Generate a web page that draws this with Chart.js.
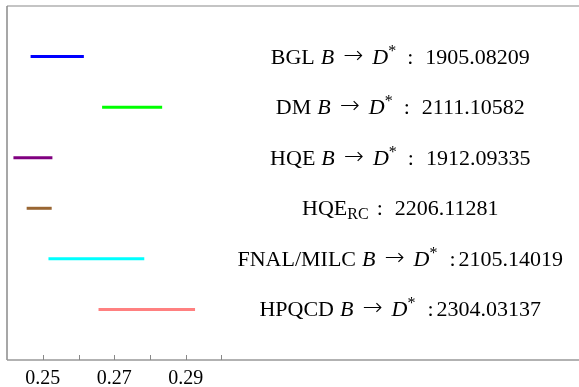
<!DOCTYPE html>
<html>
<head>
<meta charset="utf-8">
<script src="https://cdn.jsdelivr.net/npm/chart.js@4.4.1/dist/chart.umd.min.js"></script>
<style>
  html, body { margin: 0; padding: 0; background: #fff; }
  #wrap { width: 579px; height: 387px; }
</style>
</head>
<body>
<div id="wrap"><canvas id="chart"></canvas></div>
<script>
// Data
const groups = ["BGL", "DM", "HQE", "HQE_RC", "FNAL/MILC", "HPQCD"];
const refs = ["1905.08209", "2111.10582", "1912.09335", "2206.11281", "2105.14019", "2304.03137"];
const lowValues = [0.2466, 0.2666, 0.2418, 0.2455, 0.2516, 0.2656];
const highValues = [0.2615, 0.2834, 0.2527, 0.2525, 0.2784, 0.2926];
const rows = [6, 5, 4, 3, 2, 1];
const colors = ["#0000ff", "#00ff00", "#800080", "#996633", "#00ffff", "#ff8080"];
const tickValues = [0.25, 0.26, 0.27, 0.28, 0.29, 0.30];
const labelledTicks = [0.25, 0.27, 0.29];
const labelX = 0.35;

const SERIF = "'Liberation Serif', 'Times New Roman', serif";

// pieces of each label: r = roman, i = italic, a = arrow, sup / sub, g = gap in px
function labelParts(i) {
  const g = groups[i];
  if (g === "HQE_RC") {
    return [
      { t: "HQE", s: "r" }, { t: "RC", s: "sub" }, { g: 8 },
      { t: ":", s: "r" }, { g: 12 }, { t: refs[i], s: "r" }
    ];
  }
  const wide = (g === "FNAL/MILC" || g === "HPQCD");
  return [
    { t: g, s: "r" }, { g: 6 }, { t: "B", s: "i" }, { g: 9 }, { t: "\u2192", s: "a" }, { g: 9 },
    { t: "D", s: "i" }, { t: "*", s: "sup" },
    { g: wide ? 12 : 11 }, { t: ":", s: "r" }, { g: wide ? 3 : 12 }, { t: refs[i], s: "r" }
  ];
}

function fontFor(s) {
  if (s === "i") return "italic 22px " + SERIF;
  if (s === "a") return "200 24px 'DejaVu Sans'";
  if (s === "sup" || s === "sub") return "16px " + SERIF;
  return "22px " + SERIF;
}

const frameAndLabels = {
  id: "frameAndLabels",
  afterDraw(chart) {
    const { ctx, chartArea: a, scales } = chart;
    ctx.save();
    // frame
    ctx.lineWidth = 1.5;
    ctx.strokeStyle = "#b0b0b0";
    ctx.beginPath(); ctx.moveTo(a.left, a.top); ctx.lineTo(a.right, a.top); ctx.stroke();
    ctx.strokeStyle = "#8a8a8a";
    ctx.beginPath(); ctx.moveTo(a.left, a.top); ctx.lineTo(a.left, a.bottom); ctx.stroke();
    ctx.strokeStyle = "#999999";
    ctx.beginPath(); ctx.moveTo(a.left, a.bottom); ctx.lineTo(a.right, a.bottom); ctx.stroke();
    // inward tick marks
    ctx.lineWidth = 1;
    ctx.strokeStyle = "#888888";
    tickValues.forEach(v => {
      const x = Math.round(scales.x.getPixelForValue(v)) + 0.5;
      ctx.beginPath(); ctx.moveTo(x, a.bottom); ctx.lineTo(x, a.bottom - 5); ctx.stroke();
    });
    // labels
    ctx.fillStyle = "#000";
    ctx.textBaseline = "alphabetic";
    const cx = scales.x.getPixelForValue(labelX);
    groups.forEach((g, i) => {
      const parts = labelParts(i);
      let w = 0;
      parts.forEach(p => {
        if (p.g) { p.w = p.g; } else { ctx.font = fontFor(p.s); p.w = ctx.measureText(p.t).width; }
        w += p.w;
      });
      let x = cx - w / 2;
      const y = scales.y.getPixelForValue(rows[i]) + 7;
      parts.forEach(p => {
        if (!p.g) {
          ctx.font = fontFor(p.s);
          let dy = 0;
          if (p.s === "sup") dy = -8;
          if (p.s === "sub") dy = 4;
          if (p.s === "a") dy = -1;
          ctx.fillText(p.t, x, y + dy);
        }
        x += p.w;
      });
    });
    ctx.restore();
  }
};

new Chart(document.getElementById("chart"), {
  type: "line",
  data: {
    datasets: groups.map((g, i) => ({
      label: g,
      data: [{ x: lowValues[i], y: rows[i] }, { x: highValues[i], y: rows[i] }],
      borderColor: colors[i],
      borderWidth: 3,
      pointRadius: 0,
      fill: false,
    })),
  },
  options: {
    responsive: true,
    maintainAspectRatio: false,
    animation: false,
    layout: { padding: { left: 7, top: 6, right: 0, bottom: 0 } },
    plugins: {
      legend: { display: false },
      tooltip: { enabled: false },
    },
    scales: {
      x: {
        type: "linear",
        min: 0.24,
        max: 0.40,
        afterBuildTicks: (scale) => { scale.ticks = tickValues.map(v => ({ value: v })); },
        afterFit: (scale) => { scale.height = 27; },
        ticks: {
          autoSkip: false,
          maxRotation: 0,
          padding: 9,
          color: "#000",
          font: { family: SERIF, size: 20, lineHeight: 1.0 },
          callback: (v) => labelledTicks.some(t => Math.abs(t - v) < 1e-9) ? v.toFixed(2) : "",
        },
        grid: { display: false, drawTicks: false },
        border: { display: false },
      },
      y: {
        type: "linear",
        display: false,
        min: 0,
        max: 7,
      },
    },
  },
  plugins: [frameAndLabels],
});
</script>
</body>
</html>
